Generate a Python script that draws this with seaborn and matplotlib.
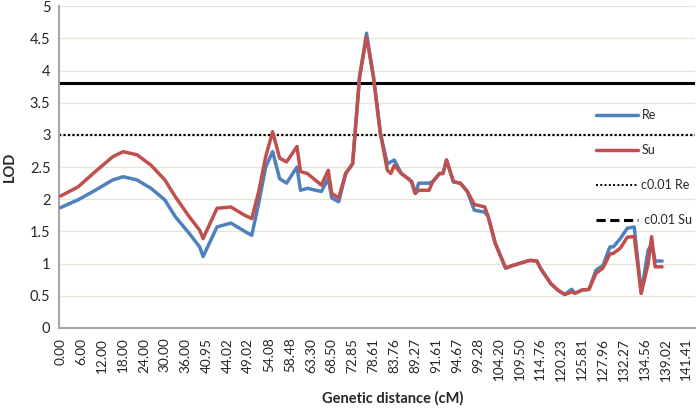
import numpy as np
import pandas as pd
import matplotlib
matplotlib.use("Agg")
import matplotlib.pyplot as plt
from matplotlib.lines import Line2D
import seaborn as sns

# marker categories (one label every 6 categories)
tick_labels = ['0.00', '6.00', '12.00', '18.00', '24.00', '30.00', '36.00', '40.95',
               '44.02', '49.02', '54.08', '58.48', '63.30', '68.50', '72.85', '78.61',
               '83.76', '89.27', '91.61', '94.67', '99.28', '104.20', '109.50', '114.76',
               '120.23', '125.81', '127.96', '132.27', '134.56', '139.02', '141.41']
n_cat = 183

# category index of each read-off point
pos = [0, 5, 10, 15, 18, 22, 26, 30, 33, 37, 40, 41, 45, 49, 53, 55, 57, 59, 61, 63,
       65, 68, 69, 71, 75, 77, 78, 80, 82, 84, 86, 88, 90, 92, 94, 95, 96, 98, 100,
       101, 102, 103, 106, 107, 109, 110, 111, 113, 115, 117, 119, 122, 123, 125, 128,
       130, 133, 135, 137, 138, 141, 143, 145, 147, 148, 150, 152, 154, 156, 158, 159,
       161, 163, 165, 167, 169, 170, 171, 173]

re_lod = [1.87, 1.99, 2.14, 2.30, 2.35, 2.30, 2.17, 1.99, 1.73, 1.47, 1.26, 1.11, 1.57,
          1.63, 1.50, 1.44, 1.94, 2.50, 2.74, 2.32, 2.25, 2.50, 2.14, 2.17, 2.12, 2.32,
          2.02, 1.96, 2.40, 2.55, 3.90, 4.58, 3.90, 3.02, 2.55, 2.58, 2.61, 2.40, 2.32,
          2.27, 2.09, 2.25, 2.25, 2.27, 2.40, 2.40, 2.61, 2.27, 2.25, 2.12, 1.83, 1.80,
          1.73, 1.32, 0.93, 0.97, 1.02, 1.05, 1.04, 0.93, 0.69, 0.59, 0.52, 0.60, 0.54,
          0.59, 0.60, 0.90, 0.97, 1.26, 1.26, 1.39, 1.55, 1.57, 0.54, 1.21, 1.30, 1.04,
          1.04]

su_lod = [2.05, 2.19, 2.43, 2.66, 2.74, 2.69, 2.53, 2.30, 2.04, 1.73, 1.52, 1.39, 1.86,
          1.88, 1.75, 1.70, 2.12, 2.66, 3.05, 2.64, 2.58, 2.82, 2.43, 2.40, 2.22, 2.45,
          2.09, 2.02, 2.40, 2.55, 3.90, 4.52, 3.90, 3.02, 2.45, 2.40, 2.53, 2.40, 2.32,
          2.27, 2.09, 2.14, 2.14, 2.27, 2.40, 2.40, 2.61, 2.27, 2.25, 2.12, 1.92, 1.88,
          1.73, 1.32, 0.93, 0.97, 1.02, 1.05, 1.04, 0.93, 0.69, 0.59, 0.52, 0.56, 0.54,
          0.59, 0.60, 0.85, 0.93, 1.15, 1.16, 1.24, 1.41, 1.42, 0.54, 1.00, 1.42, 0.95,
          0.95]

thr_re = 3.0
thr_su = 3.8

blue = '#4F81BD'
red = '#C0504D'

sns.set_theme(style='white')
plt.rcParams['font.family'] = ['Lato', 'DejaVu Sans']

df = pd.DataFrame({
    'pos': pos * 2,
    'LOD': re_lod + su_lod,
    'trait': ['Re'] * len(pos) + ['Su'] * len(pos),
})

fig = plt.figure(figsize=(7, 4.11), dpi=100)
ax = fig.add_axes([0.084, 0.202, 0.909, 0.783])

for y in np.arange(0.5, 5.01, 0.5):
    ax.axhline(y, color='#E6E6D8', lw=1, zorder=0)

ax.axhline(thr_re, color='black', lw=1.6, ls=(0, (1, 1)), zorder=1)
ax.axhline(thr_su, color='black', lw=2.2, zorder=1)

sns.lineplot(data=df, x='pos', y='LOD', hue='trait', palette=[blue, red],
             lw=2.5, ax=ax, legend=False, zorder=3, sort=False)

ax.set_xlim(-0.5, n_cat - 0.5)
ax.set_ylim(0, 5)
ax.set_yticks(np.arange(0, 5.01, 0.5))
ax.set_yticklabels(['0', '0.5', '1', '1.5', '2', '2.5', '3', '3.5', '4', '4.5', '5'],
                   fontsize=10.5)
ax.set_xticks(np.arange(0, n_cat, 6))
ax.set_xticklabels(tick_labels, rotation=90, fontsize=9.8)
ax.set_xticks(np.arange(-0.5, n_cat, 1), minor=True)
ax.tick_params(axis='x', which='major', length=0, pad=7)
ax.tick_params(axis='x', which='minor', length=4, color='#A0A0A0', width=0.8)
ax.tick_params(axis='y', length=0, pad=6)

for s in ['top', 'right']:
    ax.spines[s].set_visible(False)
for s in ['left', 'bottom']:
    ax.spines[s].set_color('#A6A6A6')
    ax.spines[s].set_linewidth(1.5)

ax.set_xlabel('Genetic distance (cM)', fontsize=10.5, fontweight='bold')
ax.xaxis.set_label_coords(0.524, -0.195)
ax.set_ylabel('LOD', fontsize=10.5, fontweight='bold')
ax.yaxis.set_label_coords(-0.066, 0.5)

handles = [
    Line2D([], [], color=blue, lw=2.5),
    Line2D([], [], color=red, lw=2.5),
    Line2D([], [], color='black', lw=1.4, ls=(0, (1, 1.2))),
    Line2D([], [], color='black', lw=2.2, ls=(0, (3, 1.5))),
]
fig.legend(handles, ['Re', 'Su', 'c0.01 Re', ' c0.01 Su'], frameon=False,
           loc='upper left', bbox_to_anchor=(0.852, 0.735), fontsize=9,
           labelspacing=1.85, handlelength=3.3, handletextpad=0.3, borderpad=0,
           borderaxespad=0)

fig.savefig('out.png', dpi=100)
